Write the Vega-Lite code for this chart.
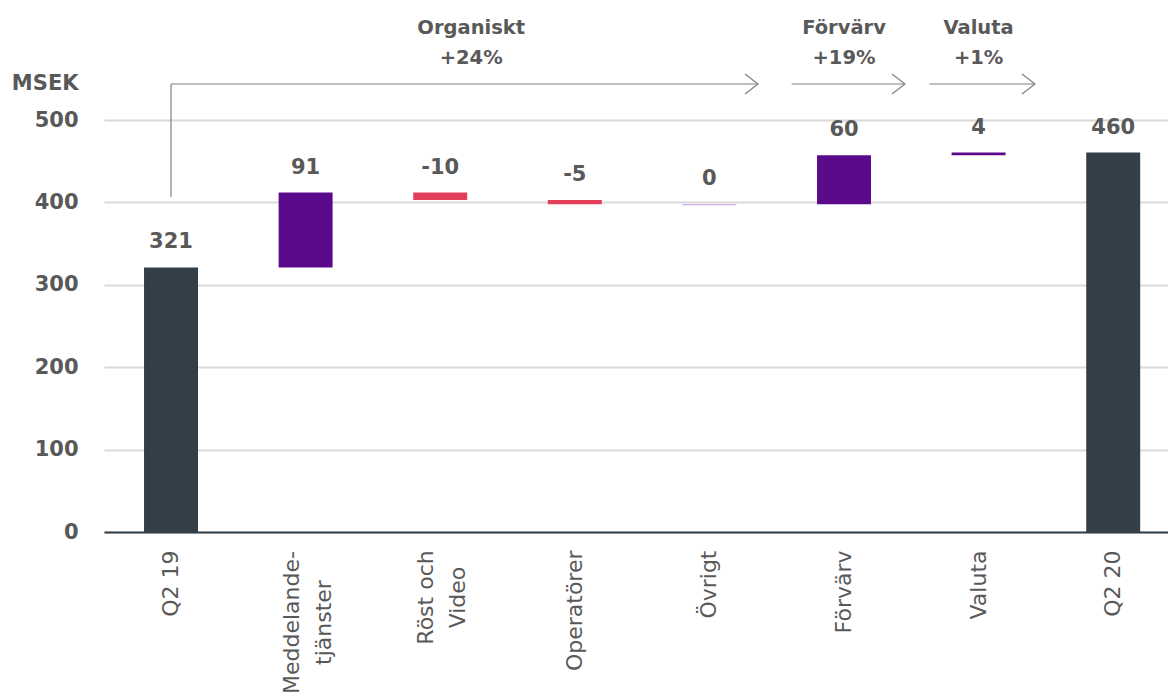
{
  "$schema": "https://vega.github.io/schema/vega-lite/v6.json",
  "width": 1064,
  "height": 412,
  "autosize": {"type": "none"},
  "padding": {"left": 104, "top": 120, "right": 0, "bottom": 161},
  "background": "white",
  "config": {"view": {"stroke": null}, "font": "DejaVu Sans"},
  "datasets": {
    "bars": [
      {"cat": "Q2 19", "start": 0, "end": 321, "label": "321", "kind": "total"},
      {"cat": "Meddelandetjänster", "start": 321, "end": 412, "label": "91", "kind": "up"},
      {"cat": "Röst och Video", "start": 412, "end": 403, "label": "-10", "kind": "down"},
      {"cat": "Operatörer", "start": 403, "end": 397.7, "label": "-5", "kind": "down"},
      {"cat": "Övrigt", "start": 397.7, "end": 396.4, "label": "0", "kind": "flat"},
      {"cat": "Förvärv", "start": 397.7, "end": 457.3, "label": "60", "kind": "up"},
      {"cat": "Valuta", "start": 457.3, "end": 460.5, "label": "4", "kind": "up"},
      {"cat": "Q2 20", "start": 0, "end": 460.5, "label": "460", "kind": "total"}
    ],
    "notes": [
      {"group": "Organiskt", "pct": "+24%"},
      {"group": "Förvärv", "pct": "+19%"},
      {"group": "Valuta", "pct": "+1%"}
    ]
  },
  "layer": [
    {
      "data": {"name": "bars"},
      "mark": {"type": "bar"},
      "encoding": {
        "x": {
          "field": "cat",
          "type": "nominal",
          "sort": null,
          "scale": {
            "domain": ["Q2 19", "Meddelandetjänster", "Röst och Video", "Operatörer", "Övrigt", "Förvärv", "Valuta", "Q2 20"],
            "paddingInner": 0.599,
            "paddingOuter": 0.252,
            "align": 0.59
          },
          "axis": {
            "title": null,
            "domainColor": "#333f48",
            "domainWidth": 2,
            "ticks": false,
            "grid": false,
            "labelAngle": -90,
            "labelAlign": {"condition": {"test": "datum.value == 'Meddelandetjänster' || datum.value == 'Röst och Video'", "value": "center"}, "value": "right"},
            "labelBaseline": "middle",
            "labelPadding": {"condition": [{"test": "datum.value == 'Meddelandetjänster'", "value": 90}, {"test": "datum.value == 'Röst och Video'", "value": 65}], "value": 18},
            "labelOffset": {"condition": {"test": "datum.value == 'Meddelandetjänster' || datum.value == 'Röst och Video'", "value": -14}, "value": 0},
            "labelFontSize": 22,
            "labelColor": "#595959",
            "labelLineHeight": 32,
            "labelOverlap": false,
            "labelBound": false,
            "labelExpr": "datum.value == 'Meddelandetjänster' ? ['Meddelande-', 'tjänster'] : datum.value == 'Röst och Video' ? ['Röst och', 'Video'] : datum.label"
          }
        },
        "y": {
          "field": "start",
          "type": "quantitative",
          "scale": {"domain": [0, 500], "nice": false},
          "axis": {
            "title": "MSEK",
            "titleAngle": 0,
            "titleAlign": "right",
            "titleBaseline": "middle",
            "titleX": -26,
            "titleY": -37,
            "titleFontSize": 21,
            "titleFontWeight": "bold",
            "titleColor": "#595959",
            "domain": false,
            "ticks": false,
            "grid": true,
            "gridColor": "#dadada",
            "gridWidth": 2,
            "values": [0, 100, 200, 300, 400, 500],
            "labelPadding": 26,
            "labelFontSize": 21,
            "labelFontWeight": "bold",
            "labelColor": "#595959"
          }
        },
        "y2": {"field": "end"},
        "color": {
          "field": "kind",
          "type": "nominal",
          "scale": {"domain": ["total", "up", "down", "flat"], "range": ["#333f48", "#5c0a8c", "#e2405a", "#c49ce8"]},
          "legend": null
        }
      }
    },
    {
      "data": {"name": "bars"},
      "transform": [{"filter": "datum.kind == 'total' || datum.kind == 'up'"}],
      "mark": {"type": "text", "dy": -25, "baseline": "middle", "fontSize": 21, "fontWeight": "bold", "color": "#595959"},
      "encoding": {
        "x": {"field": "cat", "type": "nominal"},
        "y": {"field": "end", "type": "quantitative"},
        "text": {"field": "label"}
      }
    },
    {
      "data": {"name": "bars"},
      "transform": [{"filter": "datum.kind == 'down' || datum.kind == 'flat'"}],
      "mark": {"type": "text", "dy": -25, "baseline": "middle", "fontSize": 21, "fontWeight": "bold", "color": "#595959"},
      "encoding": {
        "x": {"field": "cat", "type": "nominal"},
        "y": {"field": "start", "type": "quantitative"},
        "text": {"field": "label"}
      }
    },
    {
      "data": {"name": "notes"},
      "transform": [{"filter": "datum.group != 'Organiskt'"}],
      "mark": {"type": "text", "baseline": "middle", "fontSize": 19.5, "fontWeight": "bold", "color": "#595959"},
      "encoding": {
        "x": {"field": "group", "type": "nominal"},
        "y": {"datum": 612},
        "text": {"field": "group"}
      }
    },
    {
      "data": {"name": "notes"},
      "transform": [{"filter": "datum.group != 'Organiskt'"}],
      "mark": {"type": "text", "baseline": "middle", "fontSize": 19.5, "fontWeight": "bold", "color": "#595959"},
      "encoding": {
        "x": {"field": "group", "type": "nominal"},
        "y": {"datum": 575.5},
        "text": {"field": "pct"}
      }
    },
    {
      "data": {"name": "notes"},
      "transform": [{"filter": "datum.group == 'Organiskt'"}],
      "mark": {"type": "text", "baseline": "middle", "fontSize": 19.5, "fontWeight": "bold", "color": "#595959", "dx": 31},
      "encoding": {
        "x": {"datum": "Röst och Video", "type": "nominal"},
        "y": {"datum": 612},
        "text": {"field": "group"}
      }
    },
    {
      "data": {"name": "notes"},
      "transform": [{"filter": "datum.group == 'Organiskt'"}],
      "mark": {"type": "text", "baseline": "middle", "fontSize": 19.5, "fontWeight": "bold", "color": "#595959", "dx": 31},
      "encoding": {
        "x": {"datum": "Röst och Video", "type": "nominal"},
        "y": {"datum": 575.5},
        "text": {"field": "pct"}
      }
    },
    {
      "data": {"name": "notes"},
      "transform": [{"filter": "datum.group == 'Organiskt'"}],
      "mark": {"type": "rule", "color": "#808080", "strokeWidth": 1.2},
      "encoding": {
        "x": {"datum": "Q2 19", "type": "nominal"},
        "y": {"datum": 406.5},
        "y2": {"datum": 543.7}
      }
    },
    {
      "data": {"name": "notes"},
      "transform": [{"filter": "datum.group == 'Organiskt'"}],
      "mark": {"type": "rule", "color": "#808080", "strokeWidth": 1.2, "x2Offset": 48.6},
      "encoding": {
        "x": {"datum": "Q2 19", "type": "nominal"},
        "x2": {"datum": "Övrigt"},
        "y": {"datum": 543.7}
      }
    },
    {
      "data": {"name": "notes"},
      "transform": [{"filter": "datum.group == 'Organiskt'"}],
      "mark": {"type": "point", "shape": "M-1.3,-1L0,0L-1.3,1", "size": 400, "filled": false, "stroke": "#808080", "strokeWidth": 1.2, "opacity": 1, "xOffset": 48.6},
      "encoding": {
        "x": {"datum": "Övrigt", "type": "nominal"},
        "y": {"datum": 543.7}
      }
    },
    {
      "data": {"name": "notes"},
      "transform": [{"filter": "datum.group == 'Förvärv'"}],
      "mark": {"type": "rule", "color": "#808080", "strokeWidth": 1.2, "xOffset": -52.3, "x2Offset": 61},
      "encoding": {
        "x": {"field": "group", "type": "nominal"},
        "x2": {"field": "group"},
        "y": {"datum": 543.7}
      }
    },
    {
      "data": {"name": "notes"},
      "transform": [{"filter": "datum.group == 'Förvärv'"}],
      "mark": {"type": "point", "shape": "M-1.3,-1L0,0L-1.3,1", "size": 400, "filled": false, "stroke": "#808080", "strokeWidth": 1.2, "opacity": 1, "xOffset": 61},
      "encoding": {
        "x": {"field": "group", "type": "nominal"},
        "y": {"datum": 543.7}
      }
    },
    {
      "data": {"name": "notes"},
      "transform": [{"filter": "datum.group == 'Valuta'"}],
      "mark": {"type": "rule", "color": "#808080", "strokeWidth": 1.2, "xOffset": -49.3, "x2Offset": 56.4},
      "encoding": {
        "x": {"field": "group", "type": "nominal"},
        "x2": {"field": "group"},
        "y": {"datum": 543.7}
      }
    },
    {
      "data": {"name": "notes"},
      "transform": [{"filter": "datum.group == 'Valuta'"}],
      "mark": {"type": "point", "shape": "M-1.3,-1L0,0L-1.3,1", "size": 400, "filled": false, "stroke": "#808080", "strokeWidth": 1.2, "opacity": 1, "xOffset": 56.4},
      "encoding": {
        "x": {"field": "group", "type": "nominal"},
        "y": {"datum": 543.7}
      }
    }
  ]
}
